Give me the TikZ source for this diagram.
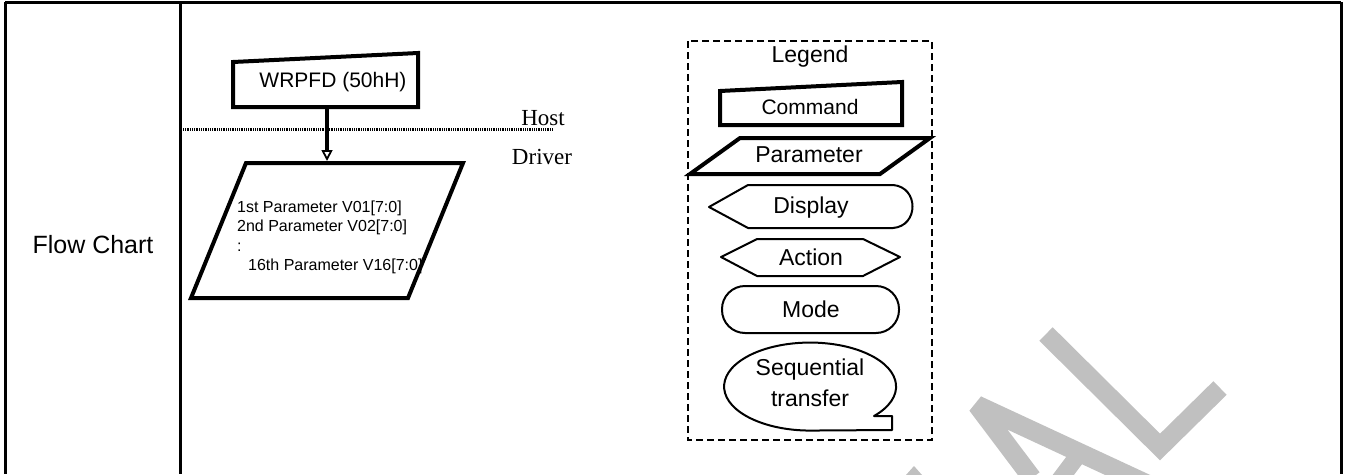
\documentclass[tikz,border=0pt]{standalone}
\usepackage{fontspec}
\setmainfont{Liberation Sans}
\newfontfamily\timesf{Liberation Serif}
\usetikzlibrary{arrows.meta}
\definecolor{wm}{HTML}{C0C0C0}
\tikzset{
  border/.style={line width=3pt},
  heavy/.style={line width=4pt, line join=miter},
  thinshape/.style={line width=2pt, line join=round},
  lbl/.style={inner sep=0pt, font=\fontsize{23}{28}\selectfont},
  small/.style={inner sep=0pt, anchor=west, font=\fontsize{16}{19}\selectfont},
  serif/.style={inner sep=0pt, font=\timesf\fontsize{23}{28}\selectfont},
  legendbox/.style={line width=2pt, dash pattern=on 7pt off 4pt},
  wmark/.style={wm, line width=19pt}
}
\begin{document}
\begin{tikzpicture}[x=1pt,y=-1pt]
\useasboundingbox (0,0) rectangle (1346,474);
% watermark
\begin{scope}
\clip (0,0) rectangle (1346,474);
\draw[wmark, line join=miter] (1046,334) -- (1160,447) -- (1220,388);
\draw[wmark, line join=bevel] (1032,478) -- (977,405) -- (1160,490);
\draw[wm, line width=17pt] (1082,450) -- (1055,486);
\fill[wm] (906,475) -- (914,466) -- (922,475) -- cycle;
\end{scope}
% table
\draw[border] (5,2) -- (1341,2);
\draw[border] (5,2) -- (5,474);
\draw[border] (180,2) -- (180,474);
\draw[border] (1341,2) -- (1341,474);
\node[inner sep=0pt, font=\fontsize{25}{30}\selectfont] (fc) at (93,245) {Flow Chart};
% flow chart
\draw[heavy] (233,62) -- (418,53) -- (418,107) -- (233,107) -- cycle;
\node[inner sep=0pt, font=\fontsize{21}{25}\selectfont] (wrpfd) at (333,82) {WRPFD (50hH)};
\coordinate (cmdbot) at (327,107);
\draw[heavy] (246,163) -- (463,163) -- (408,298) -- (191,298) -- cycle;
\coordinate (partop) at (327,161);
\draw[line width=3.5pt, -{Triangle[open, width=11pt, length=11pt, line width=1.8pt, fill=white]}] (cmdbot) -- (partop);
\draw[line width=3pt, dash pattern=on 1pt off 0.8pt] (183,129) -- (553,129);
\node[serif] (host) at (543,118) {Host};
\node[serif] (driver) at (542,157) {Driver};
\node[small] (p1) at (237,208) {1st Parameter V01[7:0]};
\node[small] (p2) at (237,227) {2nd Parameter V02[7:0]};
\node[small] (p3) at (237,247) {:};
\node[small] (p4) at (248,266) {16th Parameter V16[7:0]};
% legend
\draw[legendbox] (688,41) rectangle (932,440);
\node[lbl] (legend) at (810,57) {Legend};
\draw[heavy] (720,91) -- (902,82) -- (902,125) -- (720,125) -- cycle;
\node[inner sep=0pt, font=\fontsize{21}{25}\selectfont] (lcmd) at (810,107) {Command};
\draw[heavy] (740,138) -- (930,138) -- (880,174) -- (690,174) -- cycle;
\node[lbl] (lpar) at (809,155) {Parameter};
\draw[thinshape] (709,207) -- (748,185) -- (893,185) .. controls (919,187) and (919,226) .. (893,228) -- (748,228) -- cycle;
\node[lbl] (ldisp) at (811,208) {Display};
\draw[thinshape] (721,257) -- (757,239) -- (863,239) -- (900,257) -- (863,276) -- (757,276) -- cycle;
\node[lbl] (lact) at (811,257) {Action};
\draw[thinshape, rounded corners=23pt] (722,286) rectangle (899,333);
\node[lbl] (lmode) at (811,309) {Mode};
\draw[thinshape] (874,416) arc[start angle=42, end angle=-270, x radius=86, y radius=44] -- (892,430) -- (892,416) -- cycle;
\node[lbl] (lseq1) at (810,370) {Sequential};
\node[lbl] (lseq2) at (810,398) {transfer};
\end{tikzpicture}
\end{document}
